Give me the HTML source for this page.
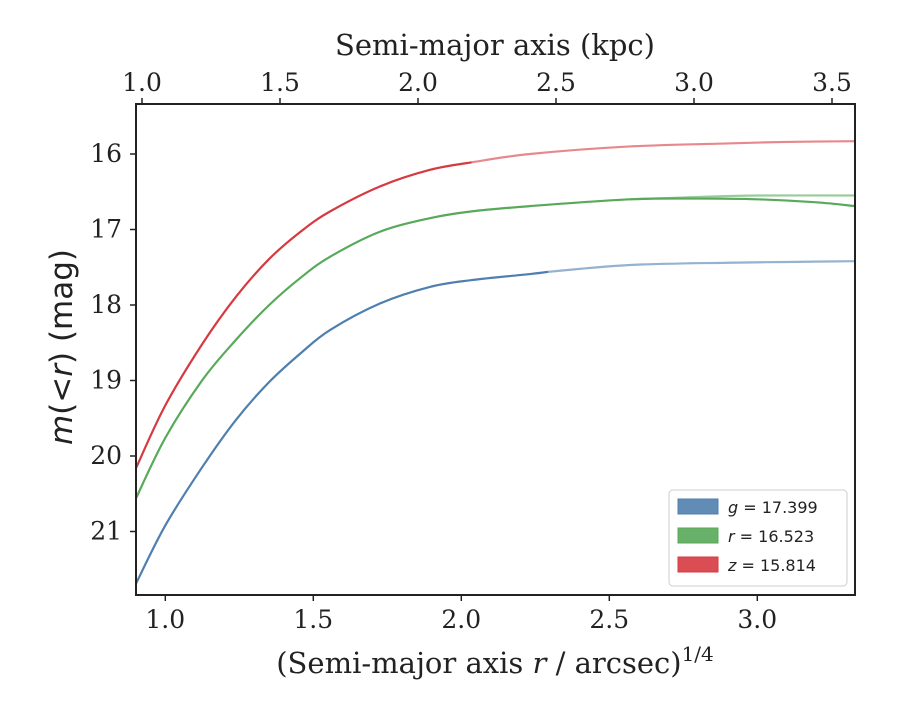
<!DOCTYPE html>
<html><head><meta charset="utf-8"><style>
body{margin:0;background:#fff}
svg text{fill:#222}
</style></head><body>
<svg width="900" height="700" id="c">
</svg>
<script>
const xsG=[0.901,1.0,1.126,1.239,1.351,1.46,1.557,1.725,1.894,2.035,2.232,2.294];
const ysG=[21.69,20.92,20.14,19.52,19.02,18.63,18.33,17.98,17.76,17.67,17.59,17.56];
const xsGext=[2.294,2.57,2.9,3.1,3.33];
const ysGext=[17.56,17.47,17.44,17.43,17.42];
const xsR=[0.901,1.0,1.126,1.239,1.351,1.46,1.557,1.725,1.894,2.035,2.232,2.57,2.8,3.0,3.2,3.33];
const ysR=[20.56,19.76,18.99,18.46,18.0,17.63,17.36,17.03,16.85,16.76,16.69,16.60,16.59,16.60,16.64,16.69];
const xsRext=[2.57,2.8,3.0,3.33];
const ysRext=[16.60,16.57,16.55,16.55];
const xsZ=[0.901,1.0,1.126,1.239,1.351,1.46,1.557,1.725,1.894,2.035];
const ysZ=[20.16,19.33,18.51,17.89,17.39,17.02,16.76,16.43,16.21,16.11];
const xsZext=[2.035,2.232,2.57,2.9,3.1,3.33];
const ysZext=[16.11,16.0,15.90,15.86,15.84,15.83];
const xTicks=[1.0,1.5,2.0,2.5,3.0];
const topTicks=[1.0,1.5,2.0,2.5,3.0,3.5];
const yTicks=[16,17,18,19,20,21];
const legendLabels=["g = 17.399","r = 16.523","z = 15.814"];
const colors=["#4f7fae","#58a95a","#d63a40"];

const L=136,R=855,T=104,B=595;
const sx=v=>165.3+(v-1.0)*296;
const stx=v=>142+(v-1.0)*276;
const sy=v=>154+(v-16)*75.5;
const svg=document.getElementById('c');
const NS="http://www.w3.org/2000/svg";
const SERIF='font-family:"DejaVu Serif","Liberation Serif",serif;';
function mk(tag,attrs,parent){const e=document.createElementNS(NS,tag);for(const k in attrs)e.setAttribute(k,attrs[k]);(parent||svg).appendChild(e);return e;}
function path(xs,ys){const p=xs.map((x,i)=>[sx(x),sy(ys[i])]);let d="M"+p[0][0]+","+p[0][1];
for(let i=0;i<p.length-1;i++){const p0=p[i-1]||p[i],p1=p[i],p2=p[i+1],p3=p[i+2]||p2;
d+=" C"+(p1[0]+(p2[0]-p0[0])/6)+","+(p1[1]+(p2[1]-p0[1])/6)+" "+(p2[0]-(p3[0]-p1[0])/6)+","+(p2[1]-(p3[1]-p1[1])/6)+" "+p2[0]+","+p2[1];}
return d;}
const clip=mk('clipPath',{id:'cp'});mk('rect',{x:L,y:T,width:R-L,height:B-T},clip);
const g=mk('g',{'clip-path':'url(#cp)'});
const series=[[xsGext,ysGext,0,0.6],[xsRext,ysRext,1,0.6],[xsZext,ysZext,2,0.6],[xsG,ysG,0,1],[xsR,ysR,1,1],[xsZ,ysZ,2,1]];
series.forEach(s=>{const e=mk('path',{d:path(s[0],s[1]),fill:'none',stroke:colors[s[2]],'stroke-width':2.2,'stroke-opacity':s[3]},g);

});
const frame=mk('rect',{x:L,y:T,width:R-L,height:B-T,fill:'none',stroke:'#222','stroke-width':2});


xTicks.forEach(v=>{mk('line',{x1:sx(v),x2:sx(v),y1:B,y2:B+6,stroke:'#222','stroke-width':1.5});
const t=mk('text',{x:sx(v),y:B+33,'text-anchor':'middle',style:SERIF+'font-size:25px'});t.textContent=v.toFixed(1);

});
topTicks.forEach(v=>{mk('line',{x1:stx(v),x2:stx(v),y1:T,y2:T-6,stroke:'#222','stroke-width':1.5});
const t=mk('text',{x:stx(v),y:T-13,'text-anchor':'middle',style:SERIF+'font-size:25px'});t.textContent=v.toFixed(1);

});
yTicks.forEach(v=>{mk('line',{x1:L,x2:L-6,y1:sy(v),y2:sy(v),stroke:'#222','stroke-width':1.5});
const t=mk('text',{x:L-14,y:sy(v)+8,'text-anchor':'end',style:SERIF+'font-size:25px'});t.textContent=v;

});
let t=mk('text',{x:495,y:673,'text-anchor':'middle',style:SERIF+'font-size:29px'});
t.innerHTML='(Semi-major axis <tspan font-style="italic">r</tspan> / arcsec)<tspan dy="-12" style="font-size:20px">1/4</tspan>';


t=mk('text',{x:495,y:55,'text-anchor':'middle',style:SERIF+'font-size:29px'});t.textContent='Semi-major axis (kpc)';


t=mk('text',{x:0,y:0,'text-anchor':'middle',style:'font-family:"DejaVu Sans","Liberation Sans",sans-serif;font-size:31px',transform:'translate(72,347) rotate(-90)'});
t.innerHTML='<tspan font-style="italic">m</tspan>(&lt;<tspan font-style="italic">r</tspan>) (mag)';


const lg=mk('g',{});


mk('rect',{x:669,y:490,width:178,height:96,rx:4,fill:'#fff',stroke:'#ccc'},lg);
legendLabels.forEach((s,i)=>{const y=499+i*29;
mk('rect',{x:678,y:y,width:40,height:15,fill:colors[i],'fill-opacity':0.9,stroke:colors[i]},lg);
const parts=s.split(' = ');
const tt=mk('text',{x:728,y:y+14,style:'font-family:"DejaVu Sans","Liberation Sans",sans-serif;font-size:16px'},lg);
tt.innerHTML='<tspan font-style="italic">'+parts[0]+'</tspan> = '+parts[1];

});
</script>
</body></html>
